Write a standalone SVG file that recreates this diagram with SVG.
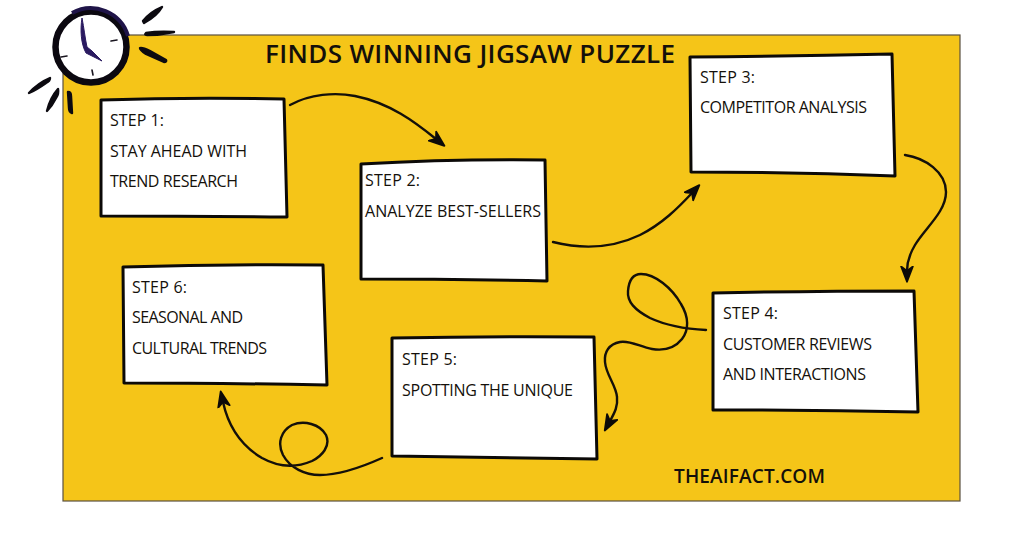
<svg xmlns="http://www.w3.org/2000/svg" width="1024" height="538" viewBox="0 0 1024 538">
<style>
  .box { fill: #fff; stroke: #0c0a08; stroke-width: 3; stroke-linejoin: round; }
  .link { fill: none; stroke: #14100a; stroke-width: 2.4; stroke-linecap: round; }
  .ray { fill: #0c0a10; stroke: #0c0a10; stroke-width: 2.4; stroke-linejoin: round; }
  .tick { fill: none; stroke: #1a1620; stroke-width: 1.6; stroke-linecap: round; }
  text { font-family: "Open Sans", "Noto Sans", "DejaVu Sans", sans-serif; fill: #14100a; font-size: 16px; }
  .title { font-size: 26px; font-weight: 600; }
  .site { font-size: 19px; font-weight: 600; }
</style>
<defs>
  <marker id="head" markerUnits="userSpaceOnUse" markerWidth="18" markerHeight="14.4" refX="6" refY="8" orient="auto" viewBox="0 0 20 16">
    <path d="M1 1.5 L18 8 L1 14.5 L6 8 Z" fill="#0c0a08" stroke="#0c0a08" stroke-width="2" stroke-linejoin="round"/>
  </marker>
</defs>

<rect width="1024" height="538" fill="#fff"/>
<rect id="panel" x="63" y="35" width="897" height="466" fill="#f5c518" stroke="#5a5040" stroke-width="1.2"/>

<g id="clock">
  <circle cx="91" cy="47" r="35.5" fill="#fff" stroke="#0b0810" stroke-width="6.5"/>
  <path d="M72 13 A39 39 0 0 1 128 36" fill="none" stroke="#1f1448" stroke-width="4"/>
  <path d="M82 18 C80 30 81 44 86 53 L102 61 L92 51 L87 47 C85 38 84 28 82 18 Z" fill="#2a1a60" stroke="#2a1a60" stroke-width="1" stroke-linejoin="round"/>
  <path class="tick" d="M111 41 L117 40 M61 57 L67 56 M92 70 L93 75"/>
  <path class="ray" d="M143 21 Q150 12 162 7 Q157 16 144 23 Z"/>
  <path class="ray" d="M146 33 Q158 31 174 32 Q160 35 147 35 Q144 35 146 33 Z"/>
  <path class="ray" d="M140 48 Q142 47 150 51 L166 60 Q167 62 164 62 L146 54 Q140 50 140 48 Z"/>
  <path class="ray" d="M29 93 Q38 83 50 78 Q50 81 46 83 Q36 90 29 93 Z"/>
  <path class="ray" d="M47 111 Q50 98 58 89 Q59 94 56 98 Q52 106 47 111 Z"/>
  <path class="ray" d="M68 92 Q71 92 71 96 L72 113 Q69 112 69 108 Z"/>
</g>

<text id="title" class="title" x="265" y="63" textLength="410" lengthAdjust="spacing">FINDS WINNING JIGSAW PUZZLE</text>

<g id="connectors">
  <path class="link" marker-end="url(#head)" d="M290 105 C310 94 335 92 355 96 C390 103 415 122 436 139"/>
  <path class="link" marker-end="url(#head)" d="M553 242 C585 250 615 247 640 235 C662 224 678 208 692 193"/>
  <path class="link" marker-end="url(#head)" d="M905 155 C925 158 946 172 946 192 C946 212 925 228 915 245 C909 255 907 264 907 271"/>
  <path class="link" marker-end="url(#head)" d="M706 330 C685 329 665 325 650 318 C635 310 627 302 628 291 C629 279 634 274 641 274 C655 274 672 288 681 304 C689 317 689 330 682 339 C674 349 664 351 652 349 C640 347 630 340 620 342 C609 344 604 352 605 362 C606 375 616 385 617 397 C618 406 615 412 610 421"/>
  <path class="link" marker-end="url(#head)" d="M382 458 C362 467 340 475 320 475 C305 475 290 468 283 455 C277 443 281 431 292 425 C304 420 320 424 326 435 C331 446 322 456 312 461 C298 467 280 468 262 458 C240 445 228 425 223 402"/>
</g>

<g id="step1">
  <path class="box" d="M101 100 Q190 97 284 99 L287 217 Q190 216 101 216 Z"/>
  <text x="110" y="126" textLength="54" lengthAdjust="spacing">STEP 1:</text>
  <text x="110" y="157" textLength="137" lengthAdjust="spacing">STAY AHEAD WITH</text>
  <text x="110" y="187" textLength="128" lengthAdjust="spacing">TREND RESEARCH</text>
</g>
<g id="step2">
  <path class="box" d="M361 164 Q450 159 545 160 L547 281 Q450 279 361 279 Z"/>
  <text x="365" y="186" textLength="55" lengthAdjust="spacing">STEP 2:</text>
  <text x="365" y="217" textLength="176" lengthAdjust="spacing">ANALYZE BEST-SELLERS</text>
</g>
<g id="step3">
  <path class="box" d="M690 57 Q790 56 892 54 L895 176 Q790 172 691 172 Z"/>
  <text x="700" y="83" textLength="55" lengthAdjust="spacing">STEP 3:</text>
  <text x="700" y="113" textLength="167" lengthAdjust="spacing">COMPETITOR ANALYSIS</text>
</g>
<g id="step4">
  <path class="box" d="M713 293 Q810 291 914 291 L918 412 Q815 410 713 410 Z"/>
  <text x="723" y="319" textLength="55" lengthAdjust="spacing">STEP 4:</text>
  <text x="723" y="350" textLength="149" lengthAdjust="spacing">CUSTOMER REVIEWS</text>
  <text x="723" y="380" textLength="143" lengthAdjust="spacing">AND INTERACTIONS</text>
</g>
<g id="step5">
  <path class="box" d="M392 338 Q490 336 594 337 L597 459 Q490 457 392 456 Z"/>
  <text x="402" y="365" textLength="55" lengthAdjust="spacing">STEP 5:</text>
  <text x="402" y="396" textLength="171" lengthAdjust="spacing">SPOTTING THE UNIQUE</text>
</g>
<g id="step6">
  <path class="box" d="M123 267 Q220 264 323 265 L327 385 Q220 383 124 383 Z"/>
  <text x="132" y="293" textLength="55" lengthAdjust="spacing">STEP 6:</text>
  <text x="132" y="323" textLength="111" lengthAdjust="spacing">SEASONAL AND</text>
  <text x="132" y="354" textLength="135" lengthAdjust="spacing">CULTURAL TRENDS</text>
</g>

<text id="site" class="site" x="674" y="483" textLength="151" lengthAdjust="spacing">THEAIFACT.COM</text>
</svg>
